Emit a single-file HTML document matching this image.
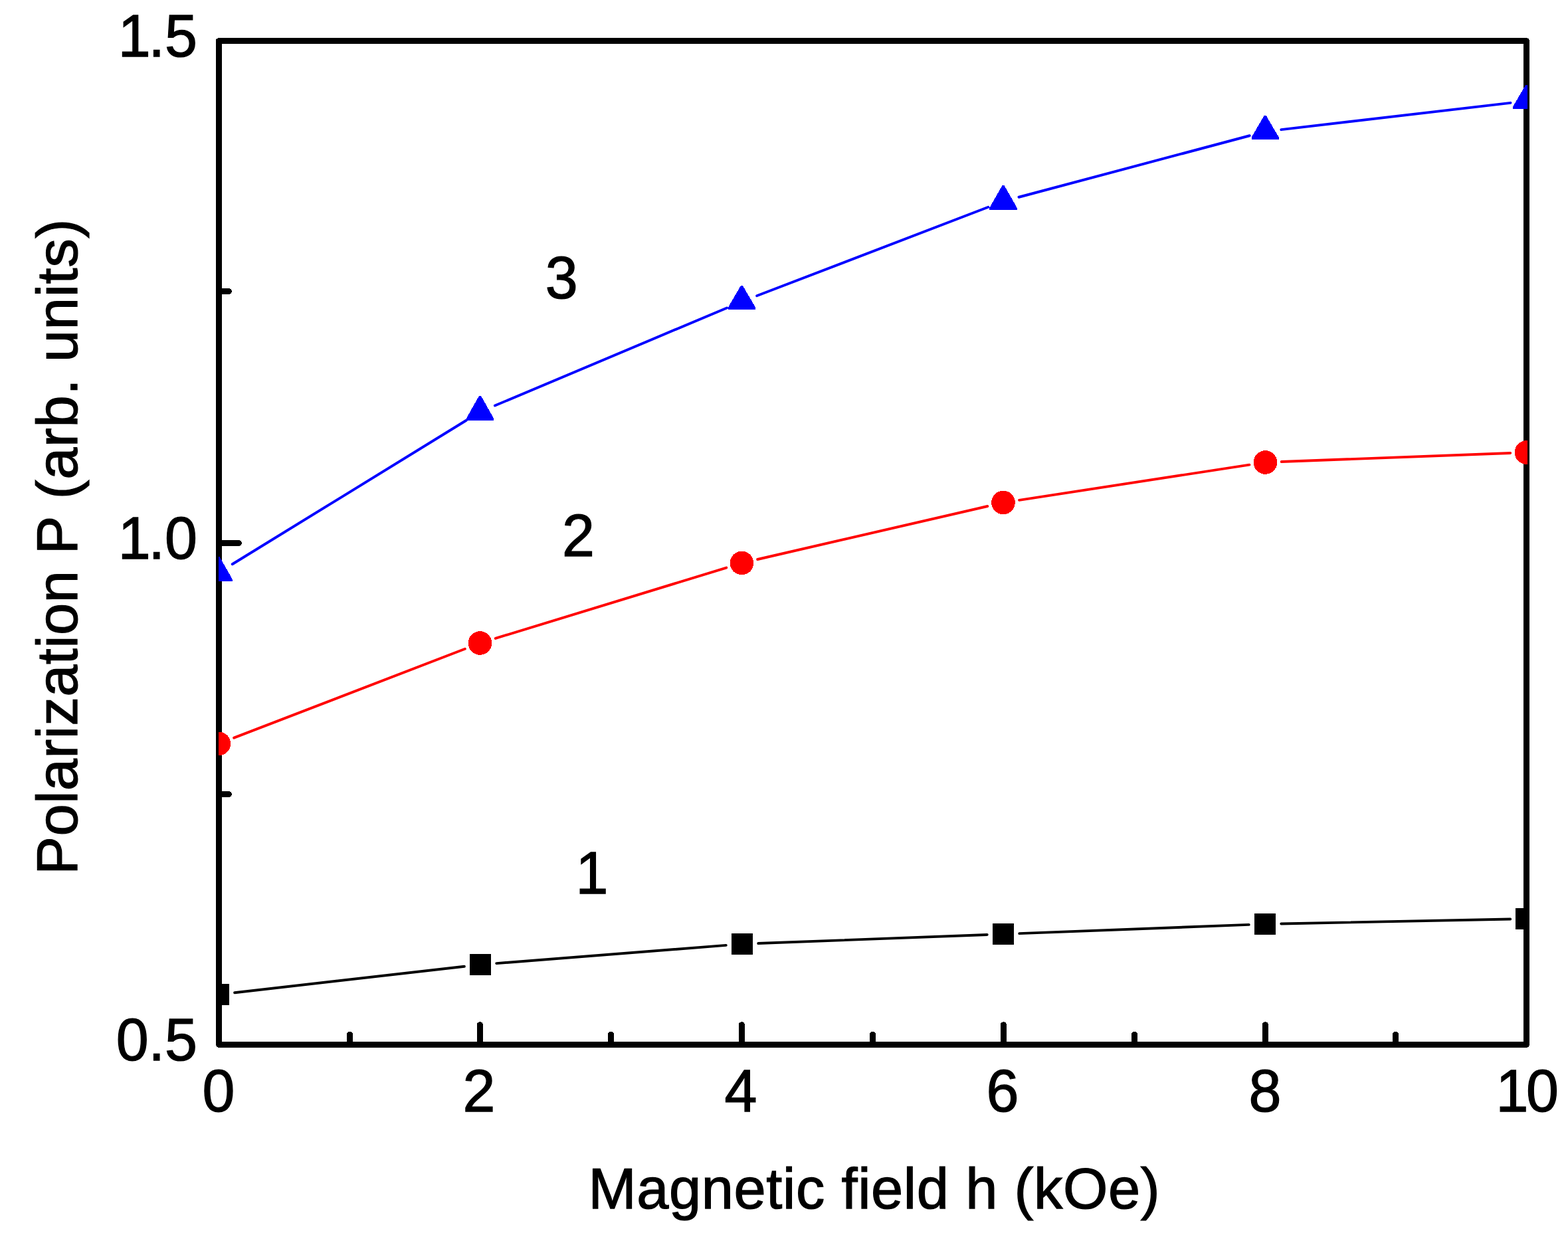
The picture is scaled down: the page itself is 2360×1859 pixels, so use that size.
<!DOCTYPE html>
<html lang="en"><head><meta charset="utf-8"><title>Polarization P vs magnetic field h</title>
<style>html,body{margin:0;padding:0;background:#fff;}body{width:2360px;height:1859px;overflow:hidden;}svg{display:block;}text{font-family:"Liberation Sans",sans-serif;font-size:88px;fill:#000;stroke:#000;stroke-width:1.3px;stroke-linejoin:miter;}text.t{font-size:86.6px;}</style>
</head><body>
<svg width="2360" height="1859" viewBox="0 0 2360 1859" shape-rendering="crispEdges" text-rendering="geometricPrecision">
<rect x="0" y="0" width="2360" height="1859" fill="#fff"/>
<defs><clipPath id="plotclip"><rect x="329" y="0" width="1970" height="1859"/></clipPath></defs>
<rect x="329.5" y="61.5" width="1968.0" height="1511.0" fill="none" stroke="#000" stroke-width="9" stroke-linejoin="round"/>
<g stroke="#000" stroke-width="9" stroke-linecap="round"><line x1="329.5" y1="1572.5" x2="329.5" y2="1542.5"/><line x1="526.5" y1="1572.5" x2="526.5" y2="1557.2"/><line x1="722.5" y1="1572.5" x2="722.5" y2="1542.5"/><line x1="919.5" y1="1572.5" x2="919.5" y2="1557.2"/><line x1="1116.5" y1="1572.5" x2="1116.5" y2="1542.5"/><line x1="1313.5" y1="1572.5" x2="1313.5" y2="1557.2"/><line x1="1510.5" y1="1572.5" x2="1510.5" y2="1542.5"/><line x1="1707.5" y1="1572.5" x2="1707.5" y2="1557.2"/><line x1="1904.5" y1="1572.5" x2="1904.5" y2="1542.5"/><line x1="2100.5" y1="1572.5" x2="2100.5" y2="1557.2"/><line x1="2297.5" y1="1572.5" x2="2297.5" y2="1542.5"/><line x1="329.5" y1="1572.5" x2="359.5" y2="1572.5"/><line x1="329.5" y1="1195.5" x2="344.5" y2="1195.5"/><line x1="329.5" y1="817.5" x2="359.5" y2="817.5"/><line x1="329.5" y1="438.5" x2="344.5" y2="438.5"/><line x1="329.5" y1="61.5" x2="359.5" y2="61.5"/></g>
<g stroke="#000" stroke-width="3.9" stroke-linecap="round" fill="none" shape-rendering="geometricPrecision"><line x1="353.14" y1="1494.24" x2="698.86" y2="1454.76"/><line x1="747.23" y1="1450.09" x2="1092.77" y2="1422.91"/><line x1="1141.28" y1="1420.07" x2="1485.72" y2="1406.93"/><line x1="1534.28" y1="1405.08" x2="1879.72" y2="1391.92"/><line x1="1928.29" y1="1390.51" x2="2273.21" y2="1383.49"/></g>
<g stroke="#f00" stroke-width="3.9" stroke-linecap="round" fill="none" shape-rendering="geometricPrecision"><line x1="352.08" y1="1110.67" x2="699.82" y2="976.73"/><line x1="745.74" y1="960.89" x2="1093.26" y2="854.61"/><line x1="1140.18" y1="842.02" x2="1486.32" y2="761.98"/><line x1="1534.02" y1="752.82" x2="1880.48" y2="699.68"/><line x1="1928.78" y1="695.07" x2="2273.22" y2="681.93"/></g>
<g stroke="#00f" stroke-width="3.9" stroke-linecap="round" fill="none" shape-rendering="geometricPrecision"><line x1="349.7" y1="849.27" x2="701.8" y2="632.73"/><line x1="744.89" y1="610.56" x2="1094.06" y2="463.44"/><line x1="1139.14" y1="445.3" x2="1487.31" y2="311.7"/><line x1="1533.48" y1="296.75" x2="1880.72" y2="204.25"/><line x1="1928.34" y1="195.18" x2="2273.46" y2="154.82"/></g>
<g clip-path="url(#plotclip)"><rect x="312.8" y="1480.8" width="32.4" height="32.4" fill="#000"/><rect x="706.8" y="1435.8" width="32.4" height="32.4" fill="#000"/><rect x="1100.8" y="1404.8" width="32.4" height="32.4" fill="#000"/><rect x="1493.8" y="1389.8" width="32.4" height="32.4" fill="#000"/><rect x="1887.8" y="1374.8" width="32.4" height="32.4" fill="#000"/><rect x="2281.3" y="1366.8" width="32.4" height="32.4" fill="#000"/><circle cx="329.4" cy="1119.4" r="17.8" fill="#f00"/><circle cx="722.5" cy="968" r="17.8" fill="#f00"/><circle cx="1116.5" cy="847.5" r="17.8" fill="#f00"/><circle cx="1510" cy="756.5" r="17.8" fill="#f00"/><circle cx="1904.5" cy="696" r="17.8" fill="#f00"/><circle cx="2297.5" cy="681" r="17.8" fill="#f00"/><polygon points="327.5,838 330.5,838 349.55,871.6 349.55,875 308.45,875 308.45,871.6" fill="#00f"/><polygon points="721,596 724,596 743.05,629.6 743.05,633 701.95,633 701.95,629.6" fill="#00f"/><polygon points="1114.95,430 1117.95,430 1137,462.6 1137,466 1095.9,466 1095.9,462.6" fill="#00f"/><polygon points="1508.5,279 1511.5,279 1530.55,312.6 1530.55,316 1489.45,316 1489.45,312.6" fill="#00f"/><polygon points="1902.7,174 1905.7,174 1924.75,206.6 1924.75,210 1883.65,210 1883.65,206.6" fill="#00f"/><polygon points="2296.1,128 2299.1,128 2318.15,160.6 2318.15,164 2277.05,164 2277.05,160.6" fill="#00f"/></g>
<text transform="translate(0,84.5) scale(1,1.024)"><tspan x="177.63">1</tspan><tspan x="223.59">.5</tspan></text>
<text transform="translate(0,840.5) scale(1,1.024)"><tspan x="177.63">1</tspan><tspan x="223.59">.0</tspan></text>
<text transform="translate(0,1595.5) scale(1,1.024)"><tspan x="174.63">0.5</tspan></text>
<text transform="translate(0,1672.5) scale(1,1.024)"><tspan x="304.52">0</tspan></text>
<text transform="translate(0,1672.5) scale(1,1.024)"><tspan x="696.52">2</tspan></text>
<text transform="translate(0,1672.5) scale(1,1.024)"><tspan x="1090.52">4</tspan></text>
<text transform="translate(0,1672.5) scale(1,1.024)"><tspan x="1484.52">6</tspan></text>
<text transform="translate(0,1672.5) scale(1,1.024)"><tspan x="1879.52">8</tspan></text>
<text transform="translate(0,1672.5) scale(1,1.024)"><tspan x="2251.55">1</tspan><tspan x="2297">0</tspan></text>
<text x="885.5" y="1819" class="t" letter-spacing="0.62" xml:space="preserve">Magnetic field h (kOe)</text>
<text transform="translate(116,1316.7) rotate(-90)" class="t" xml:space="preserve"><tspan letter-spacing="0.46">Polarization P </tspan><tspan dx="1.7" letter-spacing="0.7">(arb. units)</tspan></text>
<text transform="translate(0,448.6) scale(1,1.024)" x="820.8">3</text>
<text transform="translate(0,837.4) scale(1,1.024)" x="846">2</text>
<text transform="translate(0,1345.2) scale(1,1.024)" x="866.5">1</text>
</svg></body></html>
